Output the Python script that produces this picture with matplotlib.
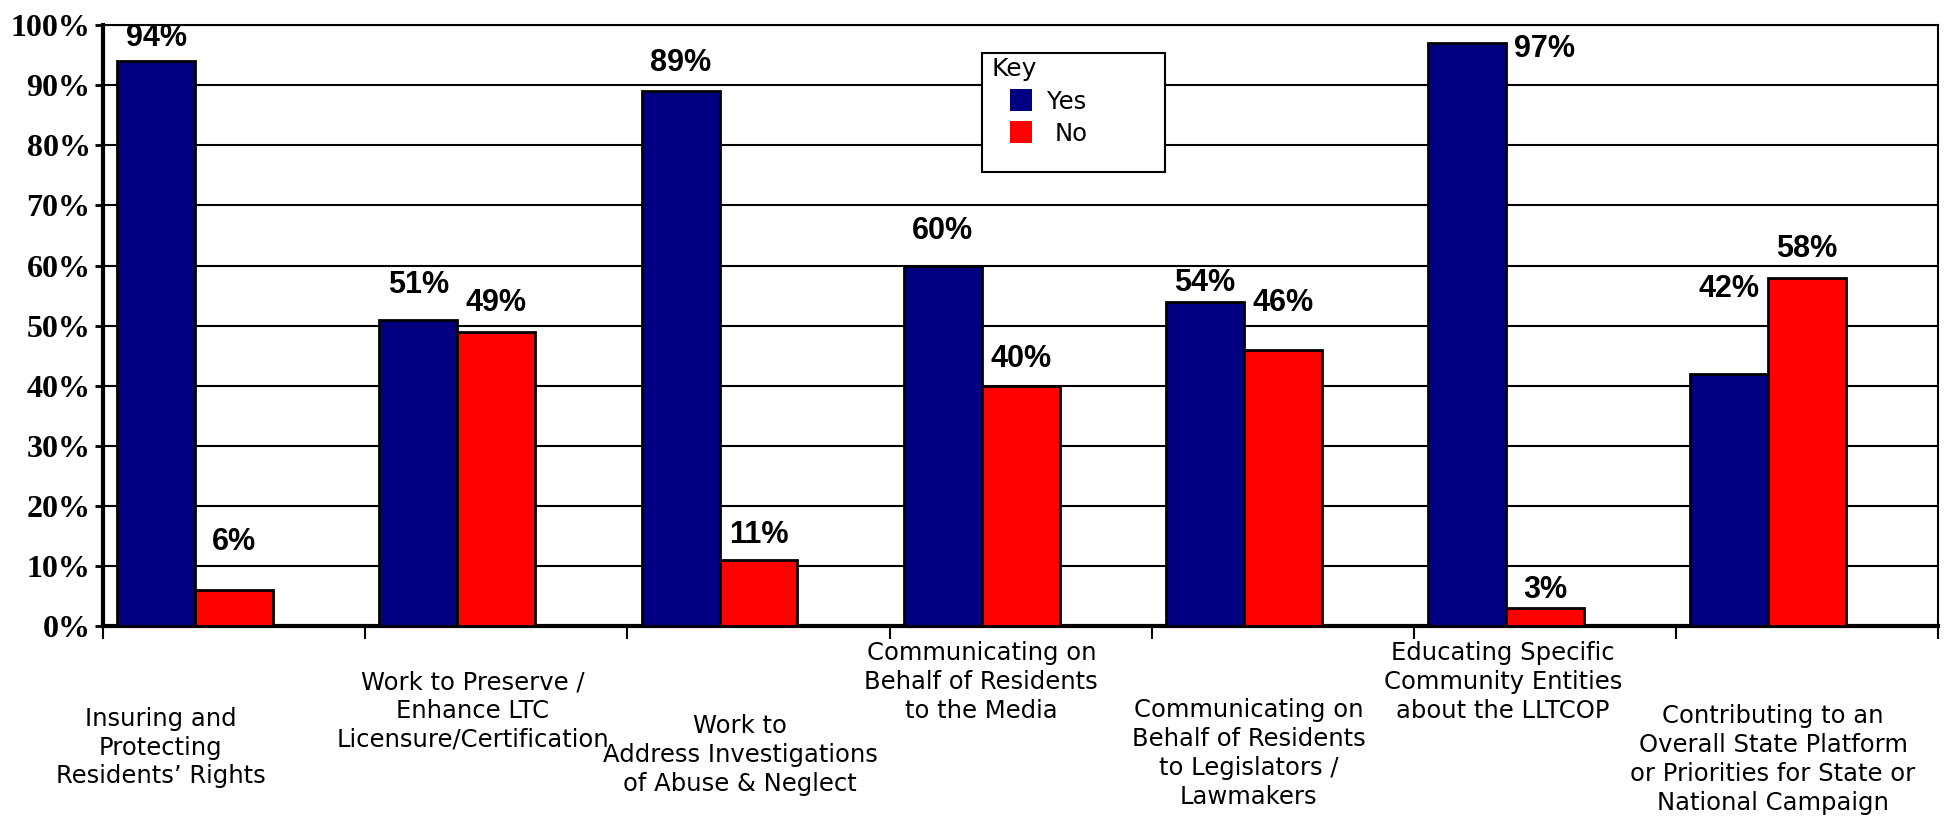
import numpy as np
import matplotlib.pyplot as plt
from matplotlib.patches import Rectangle

# Chart data
categories = [
    "Insuring and\nProtecting\nResidents\u2019 Rights",
    "Work to Preserve /\nEnhance LTC\nLicensure/Certification",
    "Work to\nAddress Investigations\nof Abuse & Neglect",
    "Communicating on\nBehalf of Residents\nto the Media",
    "Communicating on\nBehalf of Residents\nto Legislators /\nLawmakers",
    "Educating Specific\nCommunity Entities\nabout the LLTCOP",
    "Contributing to an\nOverall State Platform\nor Priorities for State or\nNational Campaign",
]
series_names = ["Yes", "No"]
yes_pct = [94, 51, 89, 60, 54, 97, 42]
no_pct = [6, 49, 11, 40, 46, 3, 58]
yticks = [0, 10, 20, 30, 40, 50, 60, 70, 80, 90, 100]

# Layout for the hand-placed labels (as in the original chart)
yes_label_y = [97.9, 56.7, 93.8, 65.8, 57.1, 96.1, 56.1]
no_label_y = [14.0, 53.8, 15.1, 44.5, 53.8, 6.0, 62.7]
yes_label_dx = [0, 0, 0, 0, 0, 1, 0]  # 97% label sits beside its bar
cat_label_dx = [-0.28, -0.09, -0.07, -0.15, -0.13, -0.16, -0.13]
cat_label_top = [-0.135, -0.074, -0.147, -0.026, -0.121, -0.026, -0.131]

BLUE = "#000080"
RED = "#FF0000"
colors = [BLUE, RED]
W = 0.297
FW, FH = 1944, 817

fig = plt.figure(figsize=(FW / 100, FH / 100), dpi=100)
ax = fig.add_axes([0.053, 0.234, 0.944, 0.735])

x = np.arange(len(categories))
ax.bar(x - W, yes_pct, W, color=BLUE, edgecolor="black", linewidth=2, zorder=3)
ax.bar(x, no_pct, W, color=RED, edgecolor="black", linewidth=2, zorder=3)

# value labels
for i in range(len(categories)):
    ax.text(x[i] - W + yes_label_dx[i] * W, yes_label_y[i], f"{yes_pct[i]}%",
            ha="center", va="center", fontsize=22, fontweight="bold",
            family="Liberation Sans", zorder=4)
    ax.text(x[i], no_label_y[i], f"{no_pct[i]}%",
            ha="center", va="center", fontsize=22, fontweight="bold",
            family="Liberation Sans", zorder=4)

# category labels, staggered
tr = ax.get_xaxis_transform()
for i, lab in enumerate(categories):
    ax.text(x[i] + cat_label_dx[i], cat_label_top[i], lab, transform=tr,
            ha="center", va="top", fontsize=17.5, family="DejaVu Sans",
            linespacing=1.25, multialignment="center")

ax.set_xlim(-0.5, len(categories) - 0.5)
ax.set_ylim(0, 100)
ax.set_xticks(np.arange(-0.5, len(categories)))
ax.set_xticklabels([])
ax.set_yticks(yticks)
ax.set_yticklabels([f"{v}%" for v in yticks], fontsize=23, fontweight="bold",
                   family="Liberation Serif")
ax.tick_params(axis="y", length=6, width=2, pad=3)
ax.tick_params(axis="x", length=9, width=1.5)

ax.grid(axis="y", color="black", linewidth=1.5, zorder=1)
ax.set_axisbelow(True)
ax.spines["left"].set_linewidth(3)
ax.spines["bottom"].set_linewidth(3)
ax.spines["top"].set_linewidth(1.5)
ax.spines["right"].set_linewidth(1.5)


# "Key" box drawn by hand, positioned in figure pixels
def fx(px):
    return px / FW


def fy(py):
    return 1 - py / FH


fig.patches.append(Rectangle((fx(982), fy(172)), fx(1165) - fx(982), fy(53) - fy(172),
                             transform=fig.transFigure, facecolor="white",
                             edgecolor="black", linewidth=1.5, zorder=5))
fig.text(fx(991), fy(69), "Key", fontsize=18, family="DejaVu Sans",
         va="center", ha="left", zorder=6)
key_rows = [(89, 102, 1047), (121, 134, 1055)]
for (sq_top, txt_y, txt_x), name, c in zip(key_rows, series_names, colors):
    fig.patches.append(Rectangle((fx(1010), fy(sq_top + 22)), fx(22), 22 / FH,
                                 transform=fig.transFigure, facecolor=c,
                                 edgecolor="none", zorder=6))
    fig.text(fx(txt_x), fy(txt_y), name, fontsize=17.5, family="DejaVu Sans",
             va="center", ha="left", zorder=6)

fig.savefig("out.png", dpi=100)
